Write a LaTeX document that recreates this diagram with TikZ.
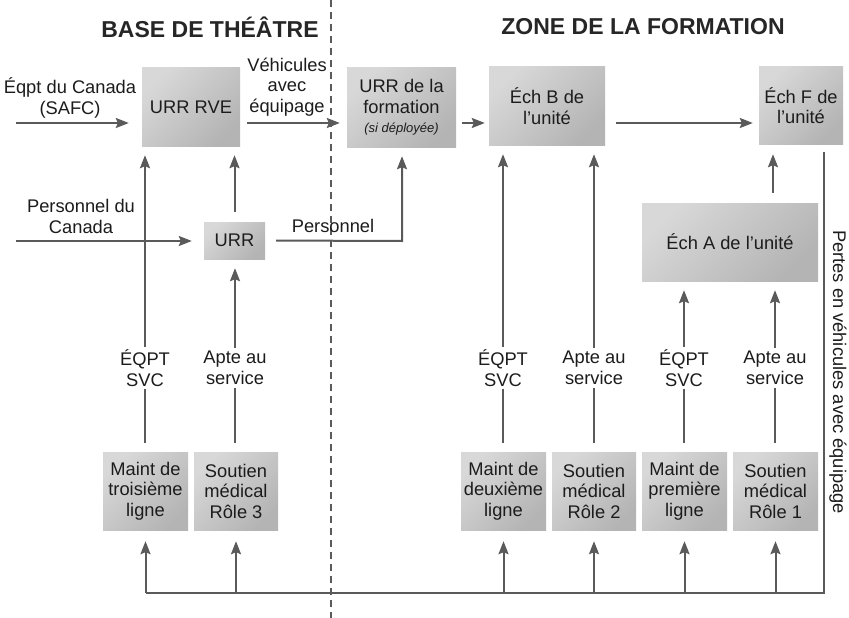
\documentclass[tikz,border=0pt]{standalone}
\usepackage{fontspec}
\setmainfont{Liberation Sans}
\usetikzlibrary{arrows.meta,calc}
\definecolor{linec}{HTML}{5A5A5A}
\definecolor{txtc}{HTML}{1C1C1C}
\definecolor{boxlight}{HTML}{D8D8D8}
\definecolor{boxdark}{HTML}{B4B4B4}
\begin{document}
\begin{tikzpicture}[x=1pt,y=-1pt,
  every node/.style={text=txtc,font=\fontsize{18.3}{20.5}\selectfont,align=center},
  box/.style={rectangle,inner sep=0pt,top color=boxlight,bottom color=boxdark,shading angle=45},
  lbl/.style={inner sep=3pt},
  title/.style={font=\fontsize{23}{27}\selectfont\bfseries,text=black!85},
  conn/.style={draw=linec,line width=2pt},
  arr/.style={conn,-{Stealth[length=13pt,width=10pt,inset=2pt]}},
]
\useasboundingbox (0,0) rectangle (849,618);
\fill[white] (0,0) rectangle (849,618);

% divider
\coordinate (dtop) at (331,0);
\coordinate (dbot) at (331,618);
\draw[linec,line width=1.5pt,dash pattern=on 7pt off 5pt] (dtop) -- (dbot);

% titles
\node[title] (t1) at (210,27) {BASE DE THÉÂTRE};
\node[title] (t2) at (643,27) {ZONE DE LA FORMATION};

% top boxes
\node[box,minimum width=98pt,minimum height=78pt] (rve) at (191,107) {URR RVE};
\node[box,minimum width=109pt,minimum height=79pt] (urrf) at (401.5,107.5) {URR de la\\formation\\[-1pt]{\fontsize{13}{15}\selectfont\itshape (si déployée)}};
\node[box,minimum width=116pt,minimum height=78pt] (echB) at (547,106) {Éch B de\\l’unité};
\node[box,minimum width=84pt,minimum height=77pt] (echF) at (801,105.5) {Éch F de\\l’unité};

% middle boxes
\node[box,minimum width=61pt,minimum height=37pt] (urr) at (234.5,240.5) {URR};
\node[box,minimum width=176pt,minimum height=78pt] (echA) at (730,242) {Éch A de l’unité};

% bottom boxes
\node[box,minimum width=85pt,minimum height=78pt] (m3) at (145.5,491) {Maint de\\troisième\\ligne};
\node[box,minimum width=84pt,minimum height=78pt] (s3) at (236,491) {Soutien\\médical\\Rôle 3};
\node[box,minimum width=85pt,minimum height=78pt] (m2) at (503.5,491) {Maint de\\deuxième\\ligne};
\node[box,minimum width=84pt,minimum height=78pt] (s2) at (594,491) {Soutien\\médical\\Rôle 2};
\node[box,minimum width=85pt,minimum height=78pt] (m1) at (684.5,491) {Maint de\\première\\ligne};
\node[box,minimum width=85pt,minimum height=78pt] (s1) at (775.5,491) {Soutien\\médical\\Rôle 1};

% labels
\node[lbl] (l1) at (145,368) {ÉQPT\\SVC};
\node[lbl] (l2) at (235,368) {Apte au\\service};
\node[lbl] (l3) at (503,368) {ÉQPT\\SVC};
\node[lbl] (l4) at (594,368) {Apte au\\service};
\node[lbl] (l5) at (684,368) {ÉQPT\\SVC};
\node[lbl] (l6) at (775,368) {Apte au\\service};

\node (teq) at (70,98) {Éqpt du Canada\\(SAFC)};
\node (tveh) at (287,87) {Véhicules\\avec\\équipage};
\node (tpc) at (81,216.5) {Personnel du\\Canada};
\node (tpers) at (333,226) {Personnel};
\node[rotate=-90] (tpertes) at (838,372) {Pertes en véhicules avec équipage};

% horizontal top arrows
\coordinate (ay) at (0,123);
\coordinate (eqin) at (16,123);
\draw[arr,shorten >=13pt] (eqin) -- (eqin -| rve.west);
\draw[arr,shorten <=7pt,shorten >=7pt] (rve.east |- ay) -- (urrf.west |- ay);
\draw[arr,shorten <=6pt,shorten >=4pt] (urrf.east |- ay) -- (echB.west |- ay);
\draw[arr,shorten <=11pt,shorten >=6pt] (echB.east |- ay) -- (echF.west |- ay);

% personnel
\coordinate (pcin) at (16,241);
\coordinate (pcorner) at (402,241);
\draw[arr,shorten >=12pt] (pcin) -- (pcin -| urr.west);
\draw[arr,shorten <=11pt,shorten >=9pt] (urr.east) -- (pcorner) -- (pcorner |- urrf.south);

% verticals from bottom boxes to labels
\foreach \b/\l in {m3/l1,s3/l2,m2/l3,s2/l4,m1/l5,s1/l6}{
  \draw[conn,shorten <=9pt] (\l.south |- \b.north) -- (\l.south);
}
% arrows from labels up
\draw[arr,shorten >=9pt] (l1.north) -- (l1.north |- rve.south);
\draw[arr,shorten >=9pt] (l2.north) -- (l2.north |- urr.south);
\draw[arr,shorten <=10pt,shorten >=9pt] (urr.north) -- (urr.north |- rve.south);
\draw[arr,shorten >=9pt] (l3.north) -- (l3.north |- echB.south);
\draw[arr,shorten >=9pt] (l4.north) -- (l4.north |- echB.south);
\draw[arr,shorten >=9pt] (l5.north) -- (l5.north |- echA.south);
\draw[arr,shorten >=9pt] (l6.north) -- (l6.north |- echA.south);
\coordinate (aF) at (773,0);
\draw[arr,shorten <=10pt,shorten >=10pt] (aF |- echA.north) -- (aF |- echF.south);

% return loop
\coordinate (rx) at (824,0);
\coordinate (by) at (0,593);
\draw[conn,shorten <=8pt] (rx |- echF.south) -- (rx |- by) -- (m3.south |- by);
\foreach \b in {m3,s3,m2,s2,m1,s1}{
  \draw[arr,shorten >=11pt] (\b.south |- by) -- (\b.south);
}
\end{tikzpicture}
\end{document}
